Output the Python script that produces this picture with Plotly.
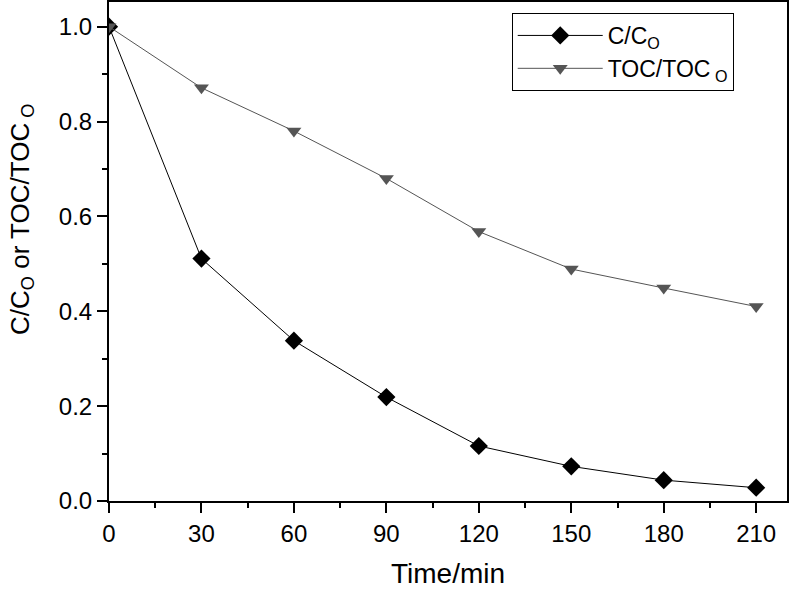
import plotly.graph_objects as go

time_min = [0, 30, 60, 90, 120, 150, 180, 210]
c_ratio = [1.0, 0.511, 0.338, 0.219, 0.116, 0.073, 0.044, 0.028]
toc_ratio = [1.0, 0.871, 0.780, 0.680, 0.568, 0.489, 0.449, 0.410]

x_title = "Time/min"
y_title = "C/C<sub>O</sub> or TOC/TOC<sub> O</sub>"

font_family = "Liberation Sans, Arial, Helvetica, sans-serif"

fig = go.Figure()
fig.add_trace(go.Scatter(
    x=time_min, y=c_ratio, mode="lines+markers",
    name="C/C<sub>O</sub>",
    line=dict(color="black", width=1),
    marker=dict(symbol="diamond", size=14, color="black"),
))
fig.add_trace(go.Scatter(
    x=time_min, y=toc_ratio, mode="lines+markers",
    name="TOC/TOC<sub> O</sub>",
    line=dict(color="#555555", width=1),
    marker=dict(symbol="triangle-down", size=13, color="#555555"),
))

axis_common = dict(
    showline=True, linecolor="black", linewidth=2, mirror=True,
    ticks="outside", ticklen=10, tickwidth=2, tickcolor="black",
    showgrid=False, zeroline=False, automargin=False,
    tickfont=dict(size=24, color="black", family=font_family),
)

fig.update_xaxes(
    range=[0, 220], tickvals=[0, 30, 60, 90, 120, 150, 180, 210],
    minor=dict(ticks="outside", ticklen=5, tickwidth=2, tickcolor="black", dtick=15, tick0=0),
    **axis_common,
)
fig.update_yaxes(
    range=[0, 1.052], tickvals=[0, 0.2, 0.4, 0.6, 0.8, 1.0], tickformat=".1f",
    minor=dict(ticks="outside", ticklen=5, tickwidth=2, tickcolor="black", dtick=0.1, tick0=0),
    **axis_common,
)

fig.add_annotation(
    text=x_title, xref="paper", yref="paper", x=0.5, y=-0.146,
    xanchor="center", yanchor="middle", showarrow=False,
    font=dict(size=28, color="black", family=font_family),
)
fig.add_annotation(
    text=y_title, xref="paper", yref="paper", x=-0.13, y=0.565,
    xanchor="center", yanchor="middle", showarrow=False, textangle=-90,
    font=dict(size=26, color="black", family=font_family),
)

fig.update_layout(
    width=791, height=589,
    margin=dict(l=109, r=4, t=2, b=88, autoexpand=False),
    plot_bgcolor="white", paper_bgcolor="white",
    font=dict(family=font_family, color="black"),
    showlegend=True,
    legend=dict(
        x=0.594, y=0.978, xanchor="left", yanchor="top",
        bordercolor="black", borderwidth=1, bgcolor="white",
        font=dict(size=23, color="black", family=font_family),
        tracegroupgap=0, itemwidth=85,
        entrywidth=250, entrywidthmode="pixels",
    ),
)

fig.write_html(
    "out.html",
    config={"displayModeBar": False},
    post_script="document.body.style.margin='0';document.body.style.overflow='hidden';",
)
